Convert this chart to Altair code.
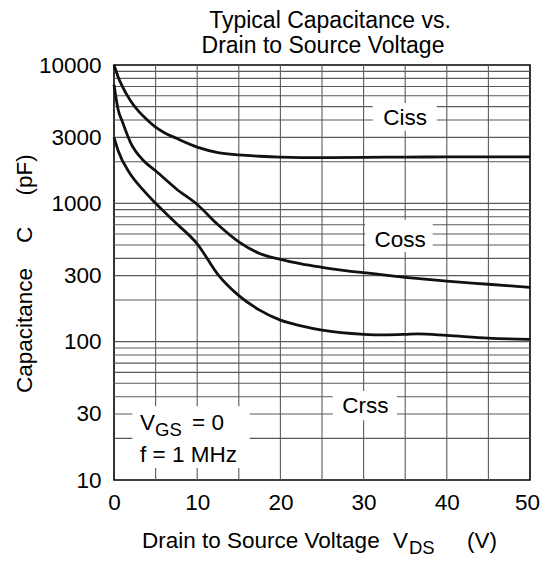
import altair as alt
import pandas as pd

FONT = "Liberation Sans"
FS = 22.5
SUB = 18.5

# ---- data ----
vds_ciss = [0, 0.5, 1, 2, 3, 4, 5, 6, 7.5, 10, 12.5, 15, 17.5, 20, 25, 30, 35, 40, 45, 50]
ciss = [10000, 8200, 7000, 5500, 4600, 4000, 3550, 3250, 2950, 2550, 2330, 2240, 2190, 2160, 2140, 2150, 2160, 2165, 2170, 2170]

vds_coss = [0, 0.5, 1, 2, 3.5, 5, 7.5, 10, 12.5, 15, 17.5, 20, 22.5, 25, 30, 35, 40, 45, 50]
coss = [7200, 4750, 3900, 2740, 2050, 1720, 1270, 980, 700, 527, 434, 393, 365, 345, 315, 292, 274, 260, 247]

vds_crss = [0, 0.5, 1.9, 3.5, 5, 7.5, 10, 12.5, 15, 17.5, 20, 22.5, 25, 30, 32.5, 35, 36.5, 40, 45, 50]
crss = [3000, 2400, 1650, 1250, 1000, 716, 510, 305, 215, 169, 143, 130, 121, 113, 112, 113, 114, 111, 106, 104]

x_ticks = [0, 10, 20, 30, 40, 50]
y_ticks = [10, 30, 100, 300, 1000, 3000, 10000]
x_grid = [5, 10, 15, 20, 25, 30, 35, 40, 45]
y_grid = [20, 30, 40, 50, 60, 70, 80, 90, 100,
          200, 300, 400, 500, 600, 700, 800, 900, 1000,
          2000, 3000, 4000, 5000, 6000, 7000, 8000, 9000]

label_names = ["Ciss", "Coss", "Crss"]
label_x = [35.0, 34.4, 30.2]
label_y = [4170, 543, 34]

box_x0 = [31.1, 30.2, 26.3, 2.2]
box_x1 = [38.8, 38.3, 34.0, 16.3]
box_y0 = [3350, 445, 27, 12.2]
box_y1 = [5310, 760, 44, 34.2]

# ---- tables ----
curves = pd.concat([
    pd.DataFrame({"v": vds_ciss, "c": ciss, "s": "Ciss"}),
    pd.DataFrame({"v": vds_coss, "c": coss, "s": "Coss"}),
    pd.DataFrame({"v": vds_crss, "c": crss, "s": "Crss"}),
])
labels = pd.DataFrame({"t": label_names, "v": label_x, "c": label_y})
boxes = pd.DataFrame({"v0": box_x0, "v1": box_x1, "c0": box_y0, "c1": box_y1})

xs = alt.Scale(domain=[0, 50], nice=False, zero=False)
ys = alt.Scale(type="log", domain=[10, 10000], nice=False)

x_axis = alt.Axis(values=x_ticks, title=None, grid=False, ticks=False, domain=False,
                  labelFont=FONT, labelFontSize=FS, labelColor="black",
                  labelPadding=11, labelAngle=0, labelFlush=False,
                  labelOffset={"condition": {"test": "datum.value == 50", "value": -3},
                               "value": 0})
y_axis = alt.Axis(values=y_ticks, title=None, grid=False, ticks=False, domain=False,
                  format="d", labelFont=FONT, labelFontSize=FS, labelColor="black",
                  labelPadding=13, labelFlush=False)

X = lambda f: alt.X(f, type="quantitative", scale=xs, axis=x_axis)
Y = lambda f: alt.Y(f, type="quantitative", scale=ys, axis=y_axis)

GRID = "#5a5a5a"

vgrid = alt.Chart(pd.DataFrame({"v": x_grid})).mark_rule(
    color=GRID, strokeWidth=1.1).encode(x=X("v"))
hgrid = alt.Chart(pd.DataFrame({"c": y_grid})).mark_rule(
    color=GRID, strokeWidth=1.1).encode(y=Y("c"))

rects = alt.Chart(boxes).mark_rect(fill="white").encode(
    x=X("v0"), x2="v1", y=Y("c0"), y2="c1")

lines = alt.Chart(curves).mark_line(
    color="#111111", strokeWidth=2.8, interpolate="monotone").encode(
    x=X("v"), y=Y("c"), detail="s:N")

ctext = alt.Chart(labels).mark_text(
    font=FONT, fontSize=FS, color="black", align="center", baseline="middle").encode(
    x=X("v"), y=Y("c"), text="t:N")


def txt(s, x, y, size=FS, align="left", angle=0, baseline="alphabetic"):
    kw = dict(font=FONT, fontSize=size, color="black", align=align, baseline=baseline)
    if angle:
        kw["angle"] = angle
    return alt.Chart(pd.DataFrame({"t": [s]})).mark_text(**kw).encode(
        text="t:N", x=alt.value(x), y=alt.value(y))


NB = "\u00a0"
annots = [
    txt("Typical Capacitance vs.", 216, -37, size=23, align="center"),
    txt("Drain to Source Voltage", 209, -12, size=23, align="center"),
    txt("Capacitance" + NB * 4 + "C" + NB * 5 + "(pF)", -89, 328, angle=270, baseline="middle"),
    txt("Drain to Source Voltage", 28, 483),
    txt("V", 279, 483),
    txt("DS", 295, 489, size=SUB),
    txt("(V)", 353, 483),
    txt("V", 26, 365),
    txt("GS", 41, 371, size=SUB),
    txt("= 0", 78, 365),
    txt("f = 1 MHz", 26, 397),
]

chart = alt.layer(vgrid, hgrid, rects, lines, ctext, *annots).properties(
    width=416, height=415,
    autosize=alt.AutoSizeParams(type="none"),
    padding={"left": 106, "top": 57, "right": 10, "bottom": 77},
).configure_view(stroke="black", strokeWidth=1.6)

chart.save("out.html", embed_options={"renderer": "svg", "actions": False})
